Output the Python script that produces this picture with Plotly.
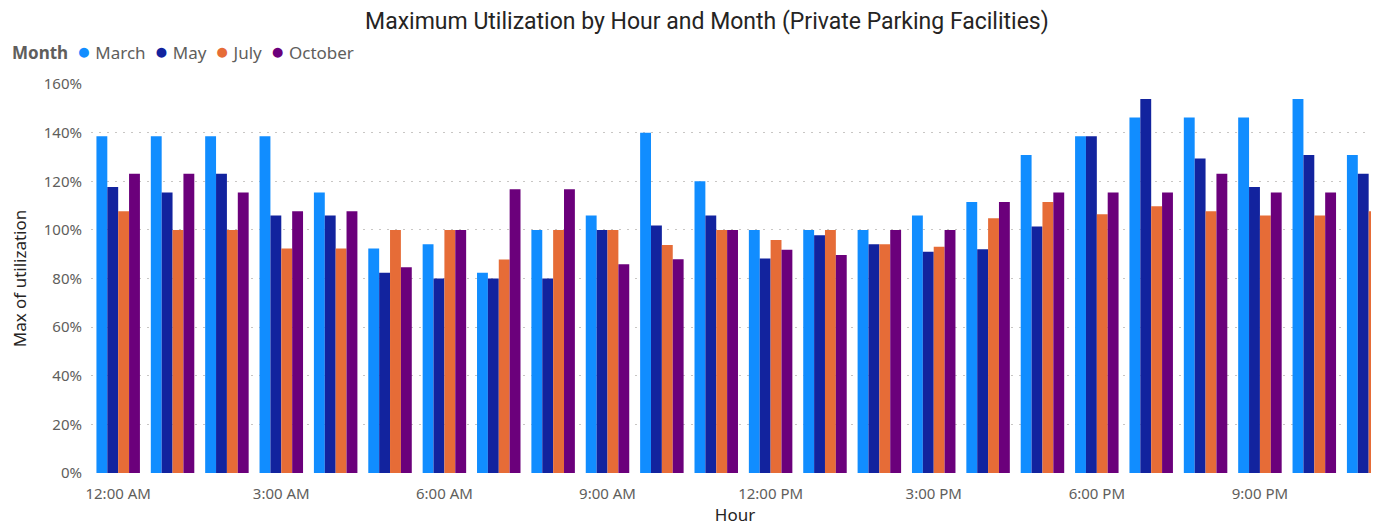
import plotly.graph_objects as go

hours = ["12:00 AM", "1:00 AM", "2:00 AM", "3:00 AM", "4:00 AM", "5:00 AM",
         "6:00 AM", "7:00 AM", "8:00 AM", "9:00 AM", "10:00 AM", "11:00 AM",
         "12:00 PM", "1:00 PM", "2:00 PM", "3:00 PM", "4:00 PM", "5:00 PM",
         "6:00 PM", "7:00 PM", "8:00 PM", "9:00 PM", "10:00 PM", "11:00 PM"]
tick_labels = hours[::3]

months = ["March", "May", "July", "October"]
march = [138.5, 138.5, 138.5, 138.5, 115.4, 92.3, 94.1, 82.4, 100, 105.9, 140, 120,
         100, 100, 100, 105.9, 111.5, 130.8, 138.5, 146.2, 146.2, 146.2, 153.8, 130.8]
may = [117.6, 115.4, 123.1, 105.9, 105.9, 82.4, 80, 80, 80, 100, 101.8, 105.9,
       88.2, 97.8, 94.1, 91, 92, 101.4, 138.5, 153.8, 129.4, 117.6, 130.8, 123.1]
july = [107.7, 100, 100, 92.3, 92.3, 100, 100, 87.8, 100, 100, 93.8, 100,
        95.8, 100, 94.1, 93.1, 104.8, 111.5, 106.4, 109.7, 107.7, 105.9, 105.9, 107.7]
october = [123.1, 123.1, 115.4, 107.7, 107.7, 84.6, 100, 116.7, 116.7, 85.9, 87.9, 100,
           91.8, 89.7, 100, 100, 111.5, 115.4, 115.4, 115.4, 123.1, 115.4, 115.4, 115.4]
series = [march, may, july, october]
colors = ["#118DFF", "#12239E", "#E66C37", "#6B007B"]

FONT = "Segoe UI, Noto Sans, Open Sans, sans-serif"
NB = "\u00a0"

fig = go.Figure()
for name, vals, col in zip(months, series, colors):
    fig.add_trace(go.Bar(x=hours, y=vals, name=name, marker=dict(color=col, line=dict(width=0)),
                         showlegend=False))

# Legend row (Power BI style): bold title followed by circle markers and names
parts = ["<b>Month</b>" + NB]
for name, col in zip(months, colors):
    parts.append(f"{NB}<span style='color:{col};font-size:23px'>●</span>{NB}{name}{NB}")
legend_text = "".join(parts)

fig.add_annotation(
    text=legend_text, xref="paper", yref="paper",
    x=-0.063, xanchor="left", y=1.088, yanchor="middle", showarrow=False,
    font=dict(family=FONT, size=17, color="#605E5C"),
)

fig.update_layout(
    width=1371, height=518,
    margin=dict(l=83, r=0, t=76, b=53, autoexpand=False),
    plot_bgcolor="white", paper_bgcolor="white",
    barmode="group", bargap=0.2, bargroupgap=0,
    showlegend=False,
    title=dict(text="Maximum Utilization by Hour and Month (Private Parking Facilities)",
               x=0.5098, xanchor="center", y=0.975, yanchor="middle",
               font=dict(family="Roboto, sans-serif", size=23, color="#252423")),
    xaxis=dict(type="category", range=[-0.5, 23.19], tickvals=tick_labels, ticktext=tick_labels,
               showgrid=False, zeroline=False, showline=False, ticks="", automargin=False,
               ticklabelstandoff=10,
               tickfont=dict(family=FONT, size=15, color="#605E5C"),
               title=dict(text="Hour", font=dict(family=FONT, size=17, color="#252423"), standoff=4)),
    yaxis=dict(range=[0, 160], dtick=20, ticksuffix="%", showgrid=True, automargin=False,
               gridcolor="#C8C6C4", griddash="2px,6px", gridwidth=1, zeroline=False,
               showline=False, ticks="", ticklabelstandoff=8,
               tickfont=dict(family=FONT, size=15, color="#605E5C"),
               title=dict(text="Max of utilization", font=dict(family=FONT, size=17, color="#252423"),
                          standoff=12)),
)

fig.write_html("out.html")
